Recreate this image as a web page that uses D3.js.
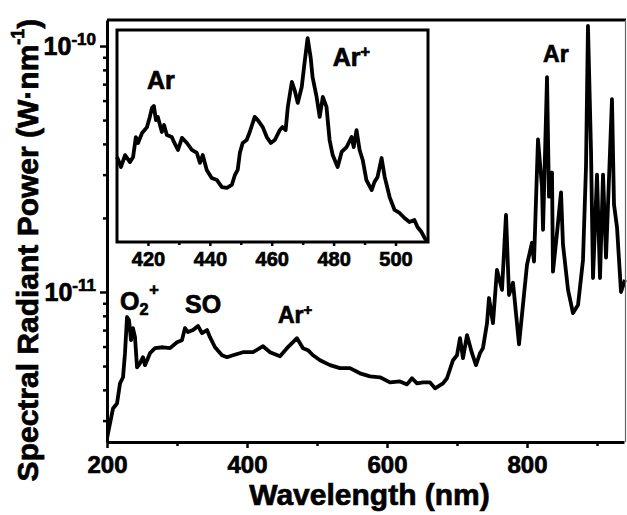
<!DOCTYPE html>
<html>
<head>
<meta charset="utf-8">
<script src="https://cdn.jsdelivr.net/npm/d3@7"></script>
<style>
  body { margin: 0; background: #fff; }
  svg { display: block; font-family: "Liberation Sans", Arial, sans-serif; font-weight: bold; }
  svg text { stroke: #000; stroke-width: 0.7px; fill: #000; }
</style>
</head>
<body>
<div id="chart"></div>
<script>
// main spectrum: wavelength (nm) and spectral radiant power (pW/nm = 1e-12 W/nm)
var mainWavelength = [200, 204.3, 208.6, 214.3, 218.6, 222.9, 225.7, 228.6, 231.4, 234.3,
  237.1, 240, 242.9, 247.1, 251.4, 254.3, 261.4, 268.6, 280, 290,
  300, 307.1, 311.4, 315.7, 322.9, 330, 335.7, 342.9, 347.1, 354.3,
  364.3, 371.4, 380, 394.3, 408.6, 422.9, 432.9, 447.1, 457.1, 471.4,
  480, 487.1, 494.3, 504.3, 518.6, 532.9, 547.1, 561.4, 575.7, 590,
  604.3, 618.6, 628.6, 635.7, 642.9, 651.4, 661.4, 668.6, 680, 685.7,
  694.3, 700, 704.3, 708.6, 714.3, 721.4, 727.1, 732.9, 737.1, 742.9,
  745.7, 751.4, 757.1, 764.3, 770, 774.3, 780, 788.6, 800, 807.1,
  810, 815.7, 821.4, 822.9, 828.6, 831.4, 835.7, 837.1, 842.9, 848.6,
  851.4, 858.6, 865.7, 872.9, 880, 884.3, 887.1, 891.4, 894.3, 900,
  904.3, 908.6, 912.9, 917.1, 921.4, 924.3, 928.6, 934.3, 940];
var mainPower = [2.54, 2.92, 3.36, 3.52, 4.25, 4.50, 5.64, 7.91, 7.69, 6.37,
  7.13, 6.55, 4.94, 5.13, 5.43, 5.04, 5.64, 5.91, 5.96, 5.91,
  6.25, 6.37, 7.13, 6.87, 7.00, 7.27, 6.80, 7.00, 6.55, 5.96,
  5.53, 5.43, 5.53, 5.69, 5.69, 6.02, 5.69, 5.48, 5.91, 6.49,
  5.91, 5.80, 5.53, 5.28, 5.04, 4.90, 4.90, 4.67, 4.54, 4.50,
  4.29, 4.33, 4.21, 4.46, 4.25, 4.29, 4.29, 4.06, 4.25, 4.46,
  5.28, 5.53, 6.49, 5.38, 6.68, 5.64, 5.04, 5.64, 5.91, 7.47,
  9.45, 7.47, 12.3, 10.2, 20.6, 9.72, 10.9, 6.13, 12.9, 15.85,
  13.3, 41.7, 26.8, 17.9, 74.7, 24.4, 30.6, 12.1, 17.4, 25.4,
  15.6, 10.2, 8.21, 8.85, 13.5, 32.4, 120.7, 38.0, 11.4, 30.0,
  11.4, 30.0, 13.8, 28.7, 60.8, 22.7, 18.3, 10.0, 11.2];

// inset: 410-510 nm zoom, arbitrary units
var insetWavelength = [410.0, 411.3, 412.6, 414.2, 415.2, 416.1, 416.8, 418.1, 419.7, 420.6,
  421.3, 421.9, 422.6, 423.2, 424.5, 425.2, 426.1, 427.7, 428.4, 429.7,
  431.0, 432.6, 434.2, 435.8, 436.8, 437.7, 439.0, 440.6, 442.3, 443.9,
  445.5, 447.1, 448.1, 449.0, 449.7, 450.6, 451.9, 452.9, 454.5, 455.5,
  457.1, 458.4, 459.7, 461.0, 462.6, 463.5, 464.5, 465.2, 466.5, 467.4,
  468.4, 469.7, 470.6, 471.6, 472.6, 473.2, 474.5, 475.5, 476.5, 477.7,
  478.7, 479.7, 481.3, 482.6, 484.2, 485.8, 486.5, 487.4, 488.4, 489.4,
  490.6, 492.3, 493.2, 494.2, 495.5, 496.5, 498.1, 499.7, 501.3, 502.9,
  504.5, 506.1, 507.1, 508.4, 509.4, 510.3];
var insetIntensity = [40.1, 35.4, 41.0, 37.7, 40.1, 49.5, 46.7, 51.4, 54.2, 59.0,
  63.2, 64.2, 57.5, 59.0, 51.9, 55.2, 50.5, 49.5, 47.2, 43.4,
  49.1, 46.7, 43.4, 42.0, 37.3, 41.0, 34.0, 30.2, 29.2, 25.9,
  25.5, 26.9, 31.6, 34.0, 42.0, 46.7, 48.1, 51.9, 59.0, 57.5,
  54.2, 49.5, 46.7, 48.1, 52.8, 54.2, 52.8, 63.7, 75.5, 71.7,
  65.6, 73.1, 84.4, 96.2, 86.8, 77.8, 68.4, 59.0, 68.4, 63.7,
  48.1, 41.0, 35.4, 42.5, 44.8, 49.5, 44.8, 52.8, 43.4, 38.7,
  29.2, 24.5, 28.3, 30.7, 39.6, 30.7, 21.2, 15.1, 13.7, 11.3,
  9.4, 10.4, 7.1, 4.7, 1.9, 0];

var xMajorTicks = [200, 400, 600, 800];
var xMinorTicks = [300, 500, 700, 900];
var yMajorTicks = [1e-11, 1e-10];
var insetMajorTicks = [420, 440, 460, 480, 500];
var insetMinorTicks = [430, 450, 470, 490];

var W = 627, H = 515;
var svg = d3.select("#chart").append("svg").attr("width", W).attr("height", H);

// plot box (pl/pr/pt/pb; "top" is taken by window.top)
var pl = 107, pr = 624, pt = 20, pb = 442;

var x = d3.scaleLinear().domain([200, 200 + (pr - pl) / 0.7]).range([pl, pr]);
var y = d3.scaleLog().domain([2.455e-12, 1.276e-10]).range([pb, pt]);

var mainData = mainWavelength.map(function (d, i) { return [d, mainPower[i] * 1e-12]; });

svg.append("clipPath").attr("id", "clip")
  .append("rect").attr("x", pl).attr("y", pt).attr("width", W - pl).attr("height", pb - pt);

var line = d3.line().x(function (d) { return x(d[0]); }).y(function (d) { return y(d[1]); });

svg.append("path")
  .datum(mainData)
  .attr("clip-path", "url(#clip)")
  .attr("d", line)
  .attr("fill", "none")
  .attr("stroke", "#000")
  .attr("stroke-width", 3.8)
  .attr("stroke-linejoin", "round");

// frame: top + right
svg.append("line").attr("x1", pl).attr("x2", pr + 2).attr("y1", pt).attr("y2", pt)
  .attr("stroke", "#000").attr("stroke-width", 3);
svg.append("line").attr("x1", pr + 1.5).attr("x2", pr + 1.5).attr("y1", pt).attr("y2", pb)
  .attr("stroke", "#666").attr("stroke-width", 1.2);

// x axis
var xAxis = svg.append("g").attr("transform", "translate(0," + pb + ")")
  .call(d3.axisBottom(x).tickValues(xMajorTicks).tickSize(6).tickSizeOuter(0).tickPadding(8));
svg.append("g").attr("transform", "translate(0," + pb + ")")
  .call(d3.axisBottom(x).tickValues(xMinorTicks).tickSize(4).tickSizeOuter(0).tickFormat(""))
  .select(".domain").remove();
xAxis.selectAll("text").attr("font-size", 24).attr("font-weight", "bold").attr("fill", "#000")
  .attr("font-family", "Liberation Sans, Arial, sans-serif");

// y axis
var yMinor = y.ticks().filter(function (v) {
  var l = Math.log10(v); return Math.abs(l - Math.round(l)) > 1e-6;
});
var yAxis = svg.append("g").attr("transform", "translate(" + pl + ",0)")
  .call(d3.axisLeft(y).tickValues(yMajorTicks).tickSize(7).tickSizeOuter(0).tickFormat(""));
svg.append("g").attr("transform", "translate(" + pl + ",0)")
  .call(d3.axisLeft(y).tickValues(yMinor).tickSize(4).tickSizeOuter(0).tickFormat(""))
  .select(".domain").remove();

yAxis.selectAll(".tick").each(function (d) {
  var t = d3.select(this).append("text")
    .attr("x", -11).attr("dy", "0.35em").attr("text-anchor", "end")
    .attr("font-size", 25).attr("font-weight", "bold")
    .attr("font-family", "Liberation Sans, Arial, sans-serif");
  t.append("tspan").text("10");
  t.append("tspan").attr("font-size", 17).attr("dy", "-0.6em").text(Math.round(Math.log10(d)));
});

svg.selectAll(".domain").attr("stroke-width", 3);
svg.selectAll(".tick line").attr("stroke-width", 2.5);

// axis titles
svg.append("text")
  .attr("x", (pl + pr) / 2 + 4).attr("y", 505)
  .attr("text-anchor", "middle").attr("font-size", 30)
  .text("Wavelength (nm)");

var yt = svg.append("text")
  .attr("transform", "translate(38,250) rotate(-90)")
  .attr("text-anchor", "middle").attr("font-size", 30);
yt.append("tspan").text("Spectral Radiant Power (W\u00b7nm");
yt.append("tspan").attr("font-size", 18).attr("dy", "-0.8em").text("-1");
yt.append("tspan").attr("dy", "0.5em").text(")");

// annotations on the main plot
function label(g, xs, ys, base, sup, sub, size) {
  var t = g.append("text").attr("x", xs).attr("y", ys).attr("font-size", size);
  t.append("tspan").text(base);
  if (sub) t.append("tspan").attr("font-size", size * 0.65).attr("dy", "0.3em").text(sub);
  if (sup) t.append("tspan").attr("font-size", size * 0.65)
    .attr("dy", sub ? "-1.2em" : "-0.55em").attr("dx", sub ? "0.05em" : 0).text(sup);
  return t;
}
label(svg, x(218.6), y(8.45e-12), "O", "+", "2", 25);
label(svg, x(311.4), y(8.22e-12), "SO", null, null, 25);
label(svg, x(444.3), y(7.48e-12), "Ar", "+", null, 23);
label(svg, x(822.9), y(8.61e-11), "Ar", null, null, 23);

// inset
var iL = 117, iR = 428, iT = 30, iB = 242;
var xi = d3.scaleLinear().domain([410, 510.5]).range([iL, iR]);
var yi = d3.scaleLinear().domain([0, 100]).range([iB, iT]);

svg.append("rect").attr("x", iL).attr("y", iT).attr("width", iR - iL).attr("height", iB - iT)
  .attr("fill", "#fff").attr("stroke", "none");

var insetData = insetWavelength.map(function (d, i) { return [d, insetIntensity[i]]; });
svg.append("path")
  .datum(insetData)
  .attr("d", d3.line().x(function (d) { return xi(d[0]); }).y(function (d) { return yi(d[1]); }))
  .attr("fill", "none").attr("stroke", "#000").attr("stroke-width", 3.8)
  .attr("stroke-linejoin", "round");

svg.append("rect").attr("x", iL).attr("y", iT).attr("width", iR - iL).attr("height", iB - iT)
  .attr("fill", "none").attr("stroke", "#000").attr("stroke-width", 3);

var ia = svg.append("g").attr("transform", "translate(0," + iB + ")")
  .call(d3.axisBottom(xi).tickValues(insetMajorTicks).tickSize(4).tickSizeOuter(0).tickPadding(6));
ia.select(".domain").remove();
ia.selectAll("text").attr("font-size", 20).attr("font-weight", "bold")
  .attr("font-family", "Liberation Sans, Arial, sans-serif");
var im = svg.append("g").attr("transform", "translate(0," + iB + ")")
  .call(d3.axisBottom(xi).tickValues(insetMinorTicks).tickSize(3).tickSizeOuter(0).tickFormat(""));
im.select(".domain").remove();
svg.selectAll(".tick line").attr("stroke-width", 2.5);

label(svg, xi(419.7), yi(72.2), "Ar", null, null, 25);
label(svg, xi(479.7), yi(83.0), "Ar", "+", null, 25);
</script>
</body>
</html>
